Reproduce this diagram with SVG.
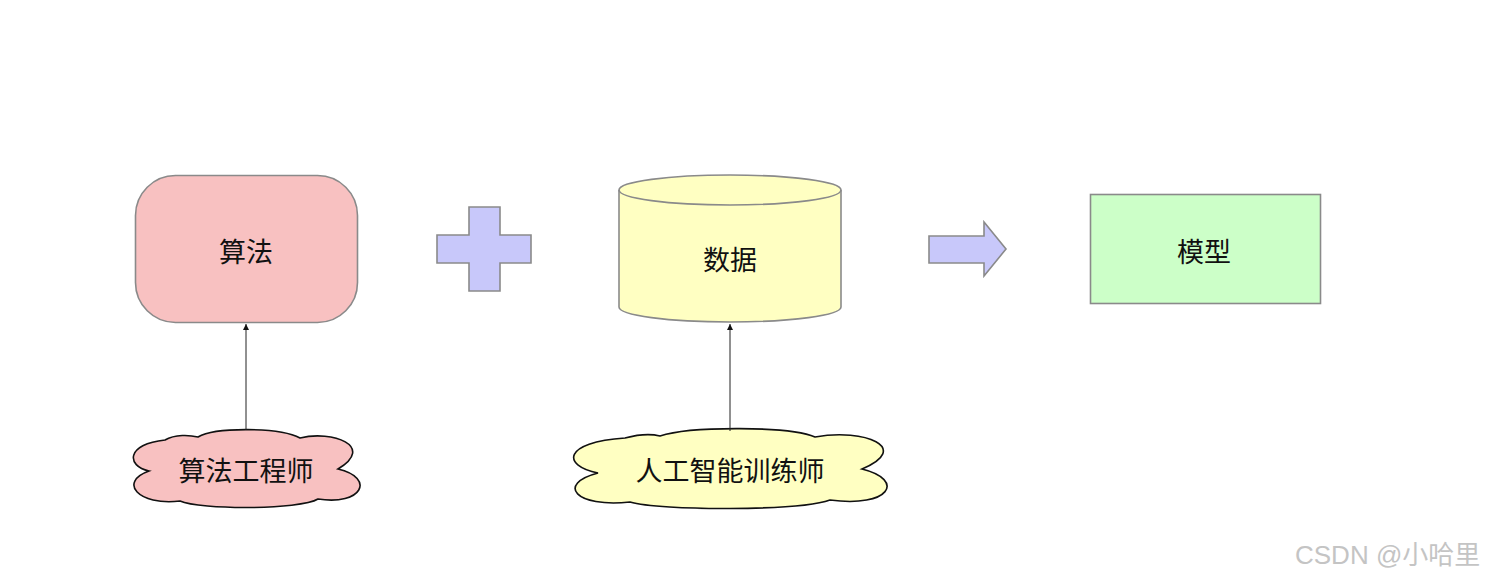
<svg xmlns="http://www.w3.org/2000/svg" width="1490" height="582" viewBox="0 0 1490 582">
<defs>
<style>
.shape{stroke:#8a8a8a;stroke-width:1.6}
.cloud{stroke:#111;stroke-width:1.6}
.lbl{font-family:"Noto Sans CJK SC","Liberation Sans",sans-serif;font-size:27px;fill:#111;text-anchor:middle;dominant-baseline:central;font-weight:400}
.wm{font-family:"Liberation Sans","Noto Sans CJK SC",sans-serif;font-size:26px;fill:#c4c4c4}
.conn{stroke:#222;stroke-width:1;fill:none}
</style>
<marker id="ah" viewBox="0 0 10 10" refX="10" refY="5" markerWidth="6" markerHeight="7" markerUnits="userSpaceOnUse" orient="auto">
<path d="M0,0 L10,5 L0,10 Z" fill="#111"/>
</marker>
</defs>
<rect width="1490" height="582" fill="#fff"/>
<g id="algo">
<rect class="shape" x="135.5" y="175.5" width="222" height="147" rx="40" ry="40" fill="#f8c1c1"/>
<text class="lbl" x="246" y="250">算法</text>
</g>
<g id="plus">
<path class="shape" d="M469,207 H500 V235 H531 V263 H500 V291 H469 V263 H437 V235 H469 Z" fill="#c8c8fa"/>
</g>
<g id="data">
<path class="shape" d="M619,190 V307 A111,15 0 0 0 841,307 V190 A111,15 0 0 0 619,190 Z" fill="#ffffc2"/>
<path class="shape" d="M619,190 A111,15 0 0 0 841,190" fill="none"/>
<text class="lbl" x="730" y="258">数据</text>
</g>
<g id="arrow">
<path class="shape" d="M929,236 H984 V222 L1006,249 L984,276 V263 H929 Z" fill="#c8c8fa"/>
</g>
<g id="model">
<rect class="shape" x="1090.5" y="194.5" width="230" height="109" fill="#ccffc8"/>
<text class="lbl" x="1204" y="250">模型</text>
</g>
<g id="engineer">
<path class="cloud" fill="#f8c1c1" d="M149,471 C126,466 126,444 165,440 C175,434 190,435 198,437 C215,427 280,427 300,438 C332,430 376,446 338,469 C376,478 362,506 318,499 C300,510 200,510 180,501 C138,506 118,482 149,471 Z"/>
<text class="lbl" x="246" y="469">算法工程师</text>
</g>
<g id="trainer">
<path class="cloud" fill="#ffffc2" d="M598,473 C562,466 562,442 625,438 C640,434 652,434 660,436 C690,426 790,426 815,437 C865,428 912,448 862,469 C906,480 890,508 830,500 C800,511 660,511 630,502 C575,508 556,484 598,473 Z"/>
<text class="lbl" x="730" y="469">人工智能训练师</text>
</g>
<g id="connectors">
<line class="conn" x1="246" y1="430" x2="246" y2="324" marker-end="url(#ah)"/>
<line class="conn" x1="730" y1="431" x2="730" y2="324" marker-end="url(#ah)"/>
</g>
<text class="wm" x="1295" y="564">CSDN @小哈里</text>
</svg>
